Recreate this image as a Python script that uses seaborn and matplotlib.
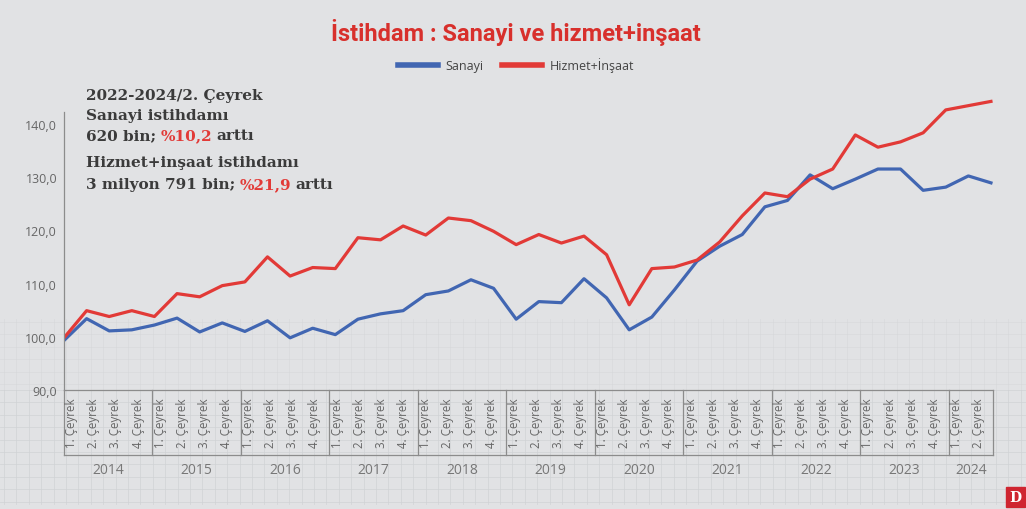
import numpy as np
import pandas as pd
import matplotlib
matplotlib.use('Agg')
import matplotlib.pyplot as plt
import matplotlib.transforms as mtransforms
from matplotlib.patches import Rectangle
import seaborn as sns

# Veriler: 2014/1. Çeyrek - 2024/2. Çeyrek (endeks)
years = ['2014', '2015', '2016', '2017', '2018', '2019', '2020', '2021', '2022', '2023', '2024']
quarters_per_year = [4, 4, 4, 4, 4, 4, 4, 4, 4, 4, 2]
quarter_names = ['1. Çeyrek', '2. Çeyrek', '3. Çeyrek', '4. Çeyrek']

sanayi = [99.3, 103.4, 101.1, 101.3, 102.2, 103.5, 100.9, 102.6, 101.0, 103.0,
          99.8, 101.6, 100.4, 103.3, 104.3, 104.9, 107.9, 108.6, 110.7, 109.1,
          103.3, 106.6, 106.4, 110.9, 107.3, 101.3, 103.7, 108.8, 114.2, 117.0,
          119.2, 124.4, 125.6, 130.4, 127.8, 129.6, 131.5, 131.5, 127.5, 128.1,
          130.2, 128.9]
hizmet = [99.8, 104.9, 103.8, 104.9, 103.8, 108.1, 107.5, 109.6, 110.3, 115.0,
          111.4, 113.0, 112.8, 118.6, 118.2, 120.8, 119.1, 122.3, 121.8, 119.8,
          117.3, 119.2, 117.6, 118.9, 115.4, 106.0, 112.8, 113.1, 114.4, 117.8,
          122.7, 127.0, 126.3, 129.6, 131.5, 137.9, 135.6, 136.6, 138.3, 142.6,
          143.4, 144.2]
y_ticks = [90, 100, 110, 120, 130, 140]

# Renkler
BG = '#e1e2e4'
BLUE = '#4166b2'
RED = '#e23a37'
TXT = '#3b3b3b'
GRAY = '#8c8c8c'

plt.rcParams['font.family'] = ['Open Sans', 'DejaVu Sans']

W, H = 1026, 510
fig = plt.figure(figsize=(W / 100, H / 100), dpi=100, facecolor=BG)

# Arka plandaki kareli kağıt dokusu (hafif)
bg = fig.add_axes([0, 0, 1, 1], zorder=-5)
bg.set_xlim(0, W)
bg.set_ylim(H, 0)
bg.axis('off')
step = 12.4
for gx in np.arange(4, W, step):
    bg.plot([gx, gx], [320, 391], color='#d3d5d8', lw=0.6, alpha=0.5)
    bg.plot([gx, gx], [391, 505], color='#d0d2d5', lw=0.6, alpha=0.8)
for gy in np.arange(323, 391, step):
    bg.plot([0, W], [gy, gy], color='#d3d5d8', lw=0.6, alpha=0.5)
for gy in np.arange(391, 505, step):
    bg.plot([0, W], [gy, gy], color='#d0d2d5', lw=0.6, alpha=0.8)

# Ana grafik
ax = fig.add_axes([64 / W, 1 - 391 / H, 929 / W, 291 / H])
ax.set_facecolor('none')

n = len(sanayi)
df = pd.DataFrame({
    't': list(range(n)) * 2,
    'deger': sanayi + hizmet,
    'seri': ['Sanayi'] * n + ['Hizmet+İnşaat'] * n,
})
sns.lineplot(data=df, x='t', y='deger', hue='seri',
             palette={'Sanayi': BLUE, 'Hizmet+İnşaat': RED},
             linewidth=2.3, ax=ax)

xmax = 41.09
ax.set_xlim(0, xmax)
ax.set_ylim(90, 144.65)
ax.set_xlabel('')
ax.set_ylabel('')
ax.set_xticks([])
ax.set_yticks(y_ticks)
ax.set_yticklabels([f'{v:.1f}'.replace('.', ',') for v in y_ticks])
ax.tick_params(axis='y', length=0, pad=5, labelsize=9, labelcolor='#666666')
for s in ['top', 'right']:
    ax.spines[s].set_visible(False)
ax.spines['left'].set_color(GRAY)
ax.spines['left'].set_linewidth(0.9)
ax.spines['left'].set_bounds(90, 142.3)
ax.spines['bottom'].set_color(GRAY)
ax.spines['bottom'].set_linewidth(0.9)

# Lejant
sns.move_legend(ax, 'center', bbox_to_anchor=((516 - 64) / 929, (391 - 66) / 291),
                ncol=2, frameon=False, title=None, fontsize=9,
                handlelength=3.2, handletextpad=0.65, columnspacing=1.45,
                labelcolor='#444444')
for ln in ax.get_legend().get_lines():
    ln.set_linewidth(4)

# Çeyrek etiketleri ve yıl kutuları
trans = mtransforms.blended_transform_factory(ax.transData, ax.transAxes)
cell = xmax / n
box_bottom = -0.2234
j = 0
for yr, nq in zip(years, quarters_per_year):
    x0 = j * cell
    for q in range(nq):
        ax.text((j + q + 0.5) * cell - 0.15, -0.112, quarter_names[q], transform=trans,
                rotation=90, ha='center', va='center', fontsize=8.3, color='#666666')
    ax.plot([x0, x0], [0, box_bottom], transform=trans, color=GRAY, lw=0.9, clip_on=False)
    ax.text(x0 + nq * cell / 2, -0.2715, yr, transform=trans, ha='center', va='center',
            fontsize=10, color='#777777')
    j += nq
ax.plot([xmax, xmax], [0, box_bottom], transform=trans, color=GRAY, lw=0.9, clip_on=False)
ax.plot([0, xmax], [box_bottom, box_bottom], transform=trans, color=GRAY, lw=0.9, clip_on=False)

# Başlık
fig.text(516 / W, 1 - 33 / H, 'İstihdam : Sanayi ve hizmet+inşaat', ha='center', va='center',
         fontsize=17, fontweight='bold', color='#d8302c', family=['Roboto', 'DejaVu Sans'])

# Açıklama metni (çok renkli satırlar)
renderer = fig.canvas.get_renderer()
serif = ['DejaVu Serif']


def rich_line(x_px, y_px, parts, size=11):
    probe1 = fig.text(0, 0, 'x x', fontsize=size, fontweight='bold', family=serif)
    probe2 = fig.text(0, 0, 'xx', fontsize=size, fontweight='bold', family=serif)
    gap = probe1.get_window_extent(renderer).width - probe2.get_window_extent(renderer).width
    probe1.remove()
    probe2.remove()
    x = x_px
    for s, c in parts:
        t = fig.text(x / W, 1 - y_px / H, s, color=c, fontsize=size, fontweight='bold',
                     family=serif, ha='left', va='center')
        x = t.get_window_extent(renderer).x1 + gap * 0.8


rich_line(86, 96, [('2022-2024/2. Çeyrek', TXT)])
rich_line(86, 116, [('Sanayi istihdamı', TXT)])
rich_line(86, 136, [('620 bin;', TXT), ('%10,2', RED), ('arttı', TXT)])
rich_line(86, 163, [('Hizmet+inşaat istihdamı', TXT)])
rich_line(86, 185, [('3 milyon 791 bin;', TXT), ('%21,9', RED), ('arttı', TXT)])

# Köşedeki logo
fig.patches.append(Rectangle((1006 / W, 1 - 508 / H), 19 / W, 20 / H,
                             transform=fig.transFigure, color='#cf2530', zorder=5))
fig.text(1015.5 / W, 1 - 498 / H, 'D', ha='center', va='center', color='white',
         fontsize=10, fontweight='bold', family=serif, zorder=6)

fig.savefig('out.png', dpi=100, facecolor=BG)
